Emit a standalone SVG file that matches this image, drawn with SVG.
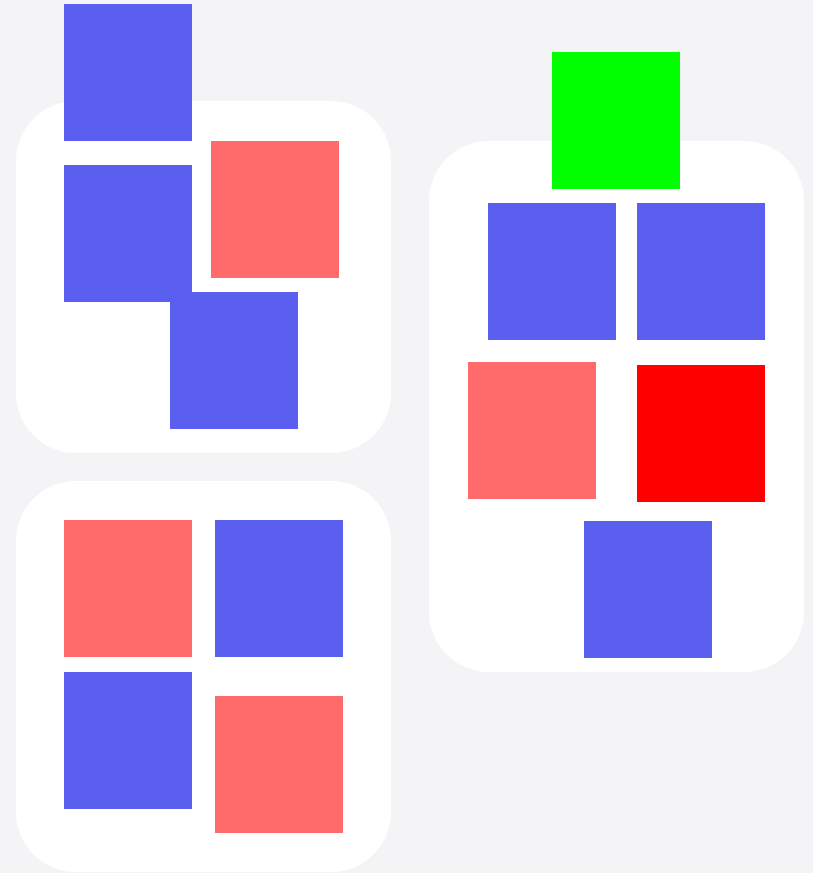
<svg xmlns="http://www.w3.org/2000/svg" width="813" height="873" viewBox="0 0 813 873">
<style>
.panel{fill:#ffffff}
.blue{fill:#5b5fef}
.pink{fill:#ff6b6b}
.red{fill:#ff0000}
.green{fill:#00ff00}
</style>
<rect x="0" y="0" width="813" height="873" fill="#f4f4f6"/>
<g id="panel1">
<rect class="panel" x="16" y="101" width="375" height="352" rx="60" ry="60"/>
</g>
<g id="panel2">
<rect class="panel" x="16" y="481" width="375" height="391" rx="60" ry="60"/>
</g>
<g id="panel3">
<rect class="panel" x="429" y="141" width="375" height="531" rx="60" ry="60"/>
</g>
<g id="p1-a"><rect class="blue" x="64" y="4" width="128" height="137"/></g>
<g id="p1-b"><rect class="blue" x="64" y="165" width="128" height="137"/></g>
<g id="p1-c"><rect class="pink" x="211" y="141" width="128" height="137"/></g>
<g id="p1-d"><rect class="blue" x="170" y="292" width="128" height="137"/></g>
<g id="p2-a"><rect class="pink" x="64" y="520" width="128" height="137"/></g>
<g id="p2-b"><rect class="blue" x="215" y="520" width="128" height="137"/></g>
<g id="p2-c"><rect class="blue" x="64" y="672" width="128" height="137"/></g>
<g id="p2-d"><rect class="pink" x="215" y="696" width="128" height="137"/></g>
<g id="p3-a"><rect class="green" x="552" y="52" width="128" height="137"/></g>
<g id="p3-b"><rect class="blue" x="488" y="203" width="128" height="137"/></g>
<g id="p3-c"><rect class="blue" x="637" y="203" width="128" height="137"/></g>
<g id="p3-d"><rect class="pink" x="468" y="362" width="128" height="137"/></g>
<g id="p3-e"><rect class="red" x="637" y="365" width="128" height="137"/></g>
<g id="p3-f"><rect class="blue" x="584" y="521" width="128" height="137"/></g>
<g id="connectors"></g>
</svg>
